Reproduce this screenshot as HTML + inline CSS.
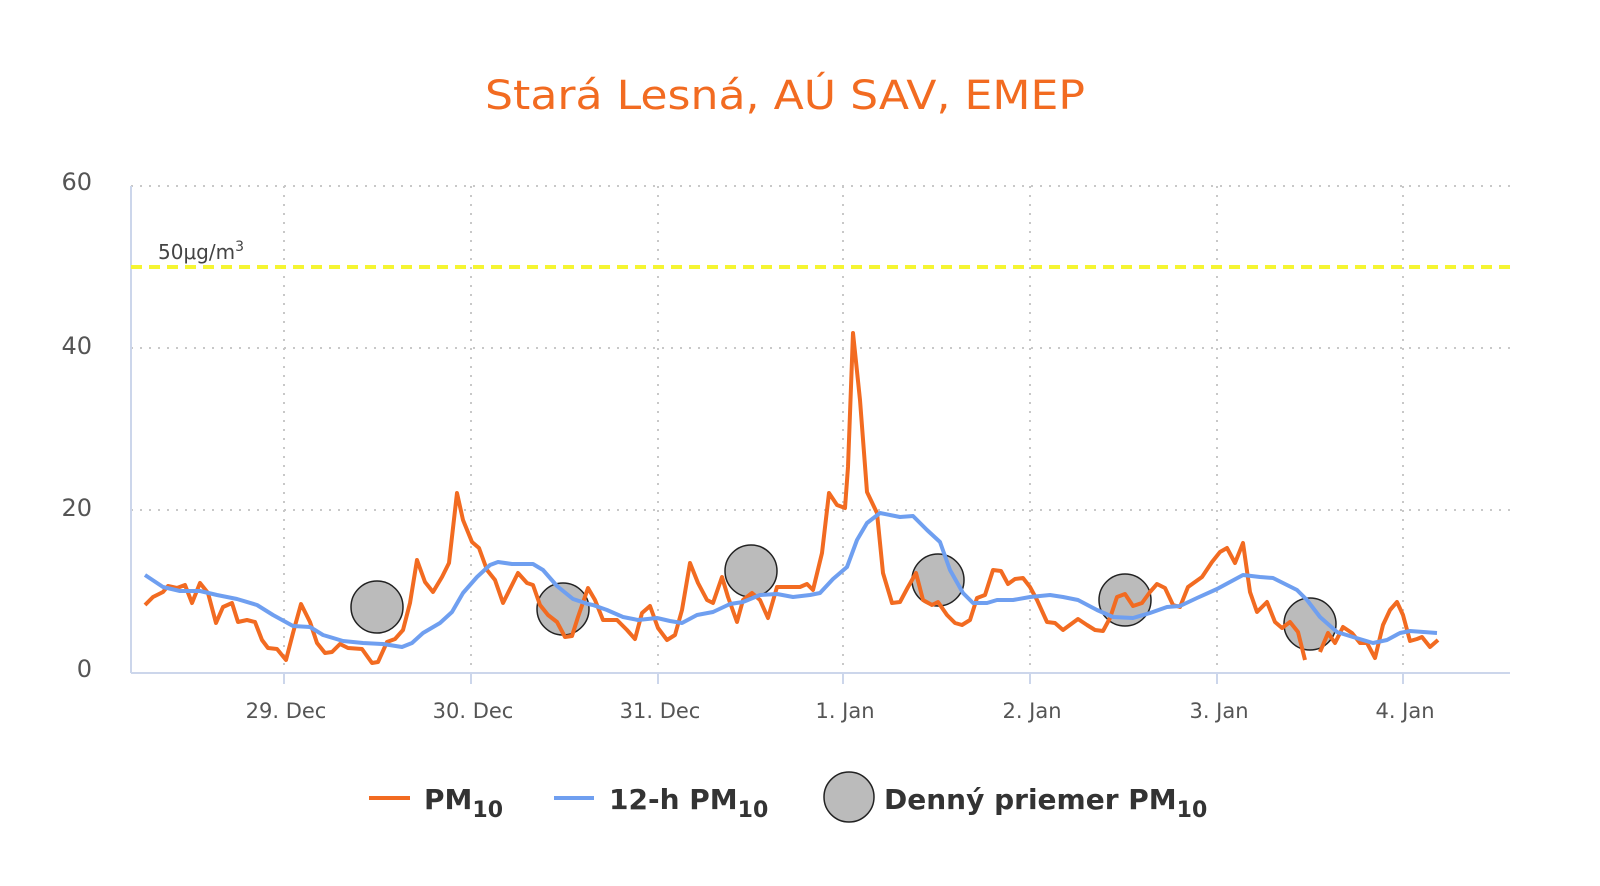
<!DOCTYPE html>
<html><head><meta charset="utf-8"><style>
html,body{margin:0;padding:0;background:#fff;}
svg{display:block;font-family:"DejaVu Sans","Liberation Sans",sans-serif;}
</style></head><body>
<svg width="1600" height="886" viewBox="0 0 1600 886" xmlns="http://www.w3.org/2000/svg">
<rect width="1600" height="886" fill="#fff"/>
<text x="785" y="109" text-anchor="middle" font-size="40" fill="#f26b21" textLength="600" lengthAdjust="spacingAndGlyphs">Stará Lesná, AÚ SAV, EMEP</text>
<g stroke="#c8c8c8" stroke-width="2" stroke-dasharray="2,7" fill="none">
<line x1="131" y1="186" x2="1510" y2="186"/>
<line x1="131" y1="348" x2="1510" y2="348"/>
<line x1="131" y1="510" x2="1510" y2="510"/>
<line x1="284" y1="186" x2="284" y2="672"/>
<line x1="471" y1="186" x2="471" y2="672"/>
<line x1="658" y1="186" x2="658" y2="672"/>
<line x1="843" y1="186" x2="843" y2="672"/>
<line x1="1030" y1="186" x2="1030" y2="672"/>
<line x1="1217" y1="186" x2="1217" y2="672"/>
<line x1="1403" y1="186" x2="1403" y2="672"/>
</g>
<g stroke="#ccd6eb" stroke-width="2" fill="none">
<line x1="131" y1="186" x2="131" y2="673"/>
<line x1="131" y1="673" x2="1510" y2="673"/>
<line x1="284" y1="673" x2="284" y2="684"/>
<line x1="471" y1="673" x2="471" y2="684"/>
<line x1="658" y1="673" x2="658" y2="684"/>
<line x1="843" y1="673" x2="843" y2="684"/>
<line x1="1030" y1="673" x2="1030" y2="684"/>
<line x1="1217" y1="673" x2="1217" y2="684"/>
<line x1="1403" y1="673" x2="1403" y2="684"/>
</g>
<g font-size="24" fill="#555" text-anchor="end">
<text x="92" y="190">60</text>
<text x="92" y="354">40</text>
<text x="92" y="516">20</text>
<text x="92" y="677">0</text>
</g>
<g font-size="21" fill="#555" text-anchor="middle">
<text x="286" y="718">29. Dec</text>
<text x="473" y="718">30. Dec</text>
<text x="660" y="718">31. Dec</text>
<text x="845" y="718">1. Jan</text>
<text x="1032" y="718">2. Jan</text>
<text x="1219" y="718">3. Jan</text>
<text x="1405" y="718">4. Jan</text>
</g>
<line x1="131" y1="267" x2="1510" y2="267" stroke="#f5f532" stroke-width="4" stroke-dasharray="11,7"/>
<text x="158" y="259" font-size="20" fill="#444">50μg/m<tspan dy="-8" font-size="14">3</tspan></text>
<g fill="#bbbbbb" stroke="#222" stroke-width="1.5">
<circle cx="377" cy="607" r="26"/>
<circle cx="563" cy="609" r="26"/>
<circle cx="751" cy="571" r="26"/>
<circle cx="938" cy="580" r="26"/>
<circle cx="1125" cy="600" r="26"/>
<circle cx="1310" cy="624" r="26"/>
</g>
<polyline fill="none" stroke="#f26b21" stroke-width="4" stroke-linejoin="round" points="145,605 153,597 163,592 168,586 177,588 185,585 192,603 200,583 208,593 216,623 223,607 232,603 238,622 247,620 255,622 262,640 268,648 277,649 286,660 293,633 301,604 310,622 317,643 325,653 332,652 340,644 348,648 362,649 372,663 378,662 387,642 395,639 403,630 410,603 417,560 425,582 433,592 442,577 449,563 457,493 463,520 472,542 479,548 487,570 495,580 503,603 511,587 518,573 527,583 533,585 540,605 548,615 557,622 565,637 572,636 578,617 588,588 595,600 603,620 617,620 627,630 635,639 642,613 650,606 658,628 667,640 675,635 682,610 690,563 698,583 707,600 713,603 722,577 728,597 737,622 743,600 752,593 760,600 768,618 777,587 785,587 800,587 807,584 813,590 822,553 829,493 837,505 845,508 848,467 853,333 860,400 867,492 877,513 883,573 892,603 900,602 908,587 916,573 923,600 932,605 938,602 947,615 955,623 962,625 970,620 977,598 985,595 993,570 1001,571 1008,584 1015,579 1023,578 1030,587 1037,600 1047,622 1055,623 1063,630 1078,619 1087,625 1095,630 1103,631 1110,618 1117,597 1125,594 1133,606 1142,603 1150,592 1157,584 1165,588 1173,605 1180,607 1188,587 1202,577 1212,562 1220,552 1227,548 1235,563 1243,543 1250,592 1257,612 1267,602 1275,622 1282,628 1290,622 1298,632 1305,660"/>
<polyline fill="none" stroke="#f26b21" stroke-width="4" stroke-linejoin="round" points="1320,652 1328,633 1335,643 1343,627 1352,633 1360,643 1367,643 1375,658 1383,625 1390,610 1397,602 1403,615 1410,641 1417,639 1422,637 1430,647 1438,640"/>
<polyline fill="none" stroke="#6f9ff0" stroke-width="4" stroke-linejoin="round" points="145,575 163,587 180,591 200,591 217,595 237,599 257,605 273,615 293,626 310,627 323,635 343,641 363,643 383,644 402,647 412,643 423,633 440,623 452,612 463,593 477,577 490,565 498,562 512,564 533,564 543,570 557,586 573,599 588,604 593,605 607,610 623,617 638,620 657,618 670,621 682,623 697,615 713,612 730,604 743,602 760,595 777,594 793,597 810,595 820,593 833,579 847,567 857,540 867,523 880,513 900,517 913,516 927,530 940,542 950,570 963,593 973,603 987,603 997,600 1013,600 1030,597 1050,595 1063,597 1078,600 1097,610 1113,617 1133,618 1150,613 1167,607 1180,606 1197,598 1217,589 1230,582 1243,575 1260,577 1273,578 1283,583 1297,590 1307,600 1320,617 1337,632 1353,637 1373,643 1387,640 1400,633 1410,631 1437,633"/>
<g font-size="28" font-weight="bold" fill="#333">
<line x1="369" y1="798" x2="410" y2="798" stroke="#f26b21" stroke-width="4"/>
<text x="424" y="809">PM<tspan font-size="22" dy="8">10</tspan></text>
<line x1="554" y1="798" x2="594" y2="798" stroke="#6f9ff0" stroke-width="4"/>
<text x="609" y="809">12-h PM<tspan font-size="22" dy="8">10</tspan></text>
<circle cx="849" cy="797" r="25" fill="#bbbbbb" stroke="#222" stroke-width="1.5"/>
<text x="884" y="809">Denný priemer PM<tspan font-size="22" dy="8">10</tspan></text>
</g>
</svg>
</body></html>
